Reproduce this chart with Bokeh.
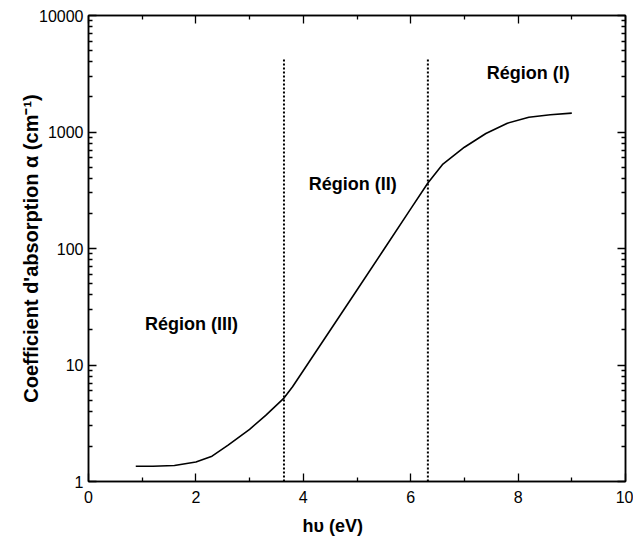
from bokeh.plotting import figure
from bokeh.models import (LinearAxis, LogAxis, FixedTicker, CustomJSTickFormatter,
                          Label, Range1d, Title)
from bokeh.embed import file_html
from bokeh.resources import INLINE

# ---- data ----
energy_ev = [0.88, 1.2, 1.6, 2.0, 2.3, 2.6, 3.0, 3.3, 3.64, 3.8, 4.2, 4.6, 5.0,
             5.5, 6.0, 6.32, 6.6, 7.0, 7.4, 7.8, 8.2, 8.6, 9.0]
alpha_cm = [1.35, 1.35, 1.37, 1.47, 1.65, 2.05, 2.8, 3.7, 5.2, 6.5, 12.3, 23.3, 44,
            98, 219, 365, 530, 740, 970, 1190, 1340, 1406, 1452]

boundaries_ev = [3.64, 6.32]
boundary_top = 4300
boundary_bottom = 1

region_names = ["Région (III)", "Région (II)", "Région (I)"]
region_x = [1.92, 4.92, 8.19]
region_y = [22.7, 361, 3200]

x_ticks = [0, 2, 4, 6, 8, 10]
x_minor = [1, 3, 5, 7, 9]
y_ticks = [1, 10, 100, 1000, 10000]
y_minor = [m * d for d in [1, 10, 100, 1000] for m in range(2, 10)]

FONT = "Liberation Sans"

p = figure(frame_width=537, frame_height=466, x_range=Range1d(0, 10),
           y_range=Range1d(1, 10000), y_axis_type="log",
           output_backend="svg", toolbar_location=None,
           min_border_left=88, min_border_right=8, min_border_top=15,
           min_border_bottom=50, background_fill_color="white")
p.grid.visible = False
p.outline_line_color = "black"
p.outline_line_width = 1.5

xt = FixedTicker(ticks=x_ticks, minor_ticks=x_minor)
yt = FixedTicker(ticks=y_ticks, minor_ticks=y_minor)
yfmt = CustomJSTickFormatter(code="return tick.toFixed(0);")


def style(ax, labels=True):
    ax.axis_line_color = "black"
    ax.axis_line_width = 1.5
    ax.major_tick_in = 8
    ax.major_tick_out = 0
    ax.minor_tick_in = 4
    ax.minor_tick_out = 0
    ax.major_tick_line_width = 1.3
    ax.minor_tick_line_width = 1.3
    ax.major_tick_line_color = "black"
    ax.minor_tick_line_color = "black"
    if labels:
        ax.major_label_text_font = FONT
        ax.major_label_text_font_size = "16px"
        ax.major_label_text_color = "black"
    else:
        ax.major_label_text_font_size = "0px"
        ax.major_label_text_alpha = 0


xa = p.xaxis[0]
xa.ticker = xt
style(xa)
xa.major_label_standoff = 9

ya = p.yaxis[0]
ya.ticker = yt
ya.formatter = yfmt
style(ya)
ya.major_label_standoff = 5
ya.axis_label = "Coefficient d'absorption α (cm⁻¹)"
ya.axis_label_text_font = FONT
ya.axis_label_text_font_style = "bold"
ya.axis_label_text_font_size = "20px"
ya.axis_label_text_color = "black"
ya.axis_label_standoff = -6

top = LinearAxis(ticker=FixedTicker(ticks=x_ticks, minor_ticks=x_minor))
style(top, labels=False)
p.add_layout(top, "above")
right = LogAxis(ticker=FixedTicker(ticks=y_ticks, minor_ticks=y_minor))
style(right, labels=False)
p.add_layout(right, "right")

# boundaries
for b in boundaries_ev:
    p.line([b, b], [boundary_bottom, boundary_top], line_color="black",
           line_width=2, line_dash="2 2")

# curve
p.line(energy_ev, alpha_cm, line_color="black", line_width=1.6)

# region labels
for name, rx, ry in zip(region_names, region_x, region_y):
    p.add_layout(Label(x=rx, y=ry, text=name, text_align="center",
                       text_baseline="middle", text_font=FONT,
                       text_font_style="bold", text_font_size="18px",
                       text_color="black"))

# x title
p.add_layout(Title(text="hυ (eV)", align="left", offset=214,
                   text_font=FONT, text_font_style="bold",
                   text_font_size="18px", text_color="black",
                   standoff=16), "below")

open("out.html", "w").write(file_html(p, INLINE))
